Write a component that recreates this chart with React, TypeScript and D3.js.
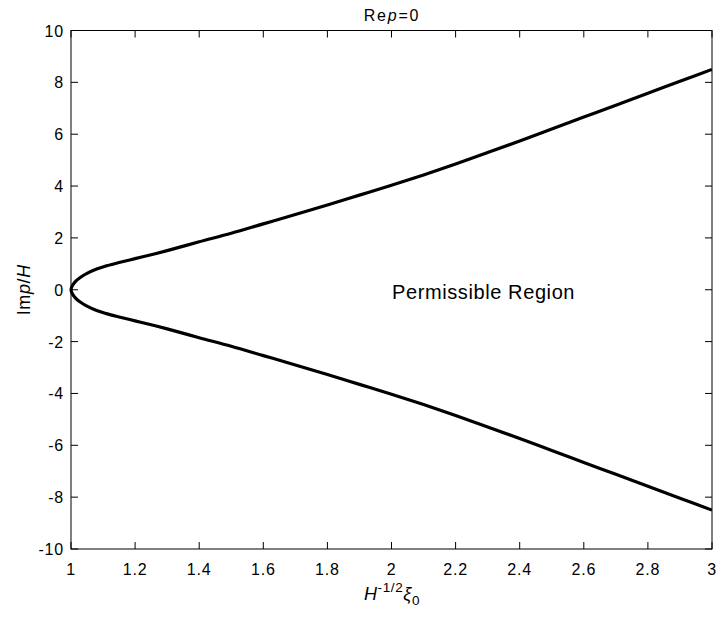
import React, { useEffect, useRef } from 'react';
import * as d3 from 'd3';

// upper branch; lower branch is its mirror image
const xVals = [1, 1.005, 1.015, 1.03, 1.05, 1.08, 1.11, 1.15, 1.2, 1.25, 1.3, 1.4, 1.5, 1.6, 1.7, 1.8, 1.9, 2.0, 2.1, 2.2, 2.3, 2.4, 2.5, 2.6, 2.7, 2.8, 2.9, 3.0];
const upperVals = [0, 0.17, 0.33, 0.48, 0.63, 0.8, 0.92, 1.05, 1.2, 1.35, 1.51, 1.85, 2.18, 2.54, 2.9, 3.27, 3.65, 4.03, 4.43, 4.85, 5.29, 5.74, 6.2, 6.66, 7.12, 7.58, 8.04, 8.5];
const xTicks = [1, 1.2, 1.4, 1.6, 1.8, 2, 2.2, 2.4, 2.6, 2.8, 3];
const yTicks = [-10, -8, -6, -4, -2, 0, 2, 4, 6, 8, 10];

const App = () => {
  const svgRef = useRef<SVGSVGElement>(null);

  useEffect(() => {
    const width = 717;
    const height = 621;
    const m = { left: 71, right: 5, top: 30.5, bottom: 72 };

    const x = d3.scaleLinear().domain([1, 3]).range([m.left, width - m.right]);
    const y = d3.scaleLinear().domain([-10, 10]).range([height - m.bottom, m.top]);

    const svg = d3.select(svgRef.current)
      .attr('width', width)
      .attr('height', height)
      .style('font-family', 'Arial, "Liberation Sans", sans-serif');
    svg.selectAll('*').remove();

    const pts: [number, number][] = [];
    for (let i = xVals.length - 1; i > 0; i--) pts.push([xVals[i], -upperVals[i]]);
    for (let i = 0; i < xVals.length; i++) pts.push([xVals[i], upperVals[i]]);

    const line = d3.line<[number, number]>()
      .x(d => x(d[0]))
      .y(d => y(d[1]))
      .curve(d3.curveCatmullRom.alpha(0.5));

    svg.append('defs').append('clipPath').attr('id', 'clip')
      .append('rect')
      .attr('x', x(1) - 2).attr('y', y(10))
      .attr('width', x(3) - x(1) + 2).attr('height', y(-10) - y(10));

    svg.append('path')
      .datum(pts)
      .attr('d', line)
      .attr('fill', 'none')
      .attr('stroke', '#000')
      .attr('stroke-width', 3.2)
      .attr('stroke-linejoin', 'round')
      .attr('clip-path', 'url(#clip)');

    // box
    svg.append('rect')
      .attr('x', x(1)).attr('y', y(10))
      .attr('width', x(3) - x(1)).attr('height', y(-10) - y(10))
      .attr('fill', 'none').attr('stroke', '#000').attr('stroke-width', 1);

    const tl = 7;
    const ticks = svg.append('g').attr('stroke', '#000').attr('stroke-width', 1);
    xTicks.forEach(t => {
      ticks.append('line').attr('x1', x(t)).attr('x2', x(t)).attr('y1', y(-10)).attr('y2', y(-10) - tl);
      ticks.append('line').attr('x1', x(t)).attr('x2', x(t)).attr('y1', y(10)).attr('y2', y(10) + tl);
    });
    yTicks.forEach(t => {
      ticks.append('line').attr('x1', x(1)).attr('x2', x(1) + tl).attr('y1', y(t)).attr('y2', y(t));
      ticks.append('line').attr('x1', x(3)).attr('x2', x(3) - tl).attr('y1', y(t)).attr('y2', y(t));
    });

    svg.append('g')
      .attr('font-size', 16)
      .attr('letter-spacing', 0.8)
      .attr('text-anchor', 'middle')
      .selectAll('text')
      .data(xTicks)
      .join('text')
      .attr('x', d => x(d))
      .attr('y', 575)
      .text(d => String(d));

    svg.append('g')
      .attr('font-size', 16)
      .attr('letter-spacing', 0.8)
      .attr('text-anchor', 'end')
      .selectAll('text')
      .data(yTicks)
      .join('text')
      .attr('x', 64)
      .attr('y', d => y(d) + 6)
      .text(d => String(d));

    // title
    const title = svg.append('text')
      .attr('x', 392).attr('y', 21)
      .attr('text-anchor', 'middle')
      .attr('letter-spacing', 1.8)
      .attr('font-size', 16);
    title.append('tspan').text('Re');
    title.append('tspan').attr('font-style', 'italic').text('p');
    title.append('tspan').text('=0');

    // x label
    const xl = svg.append('text')
      .attr('x', 392).attr('y', 600)
      .attr('text-anchor', 'middle')
      .attr('letter-spacing', 0.6)
      .attr('font-size', 18);
    xl.append('tspan').attr('font-style', 'italic').text('H');
    xl.append('tspan').attr('dy', -8).attr('font-size', 13.5).text('-1/2');
    xl.append('tspan').attr('dy', 8).attr('font-style', 'italic').text('ξ');
    xl.append('tspan').attr('dy', 5).attr('font-size', 13.5).text('0');

    // y label
    const yl = svg.append('text')
      .attr('transform', `translate(30,${y(0)}) rotate(-90)`)
      .attr('text-anchor', 'middle')
      .attr('letter-spacing', 0.6)
      .attr('font-size', 18);
    yl.append('tspan').text('Im');
    yl.append('tspan').attr('font-style', 'italic').text('p');
    yl.append('tspan').text('/');
    yl.append('tspan').attr('font-style', 'italic').text('H');

    svg.append('text')
      .attr('x', 392).attr('y', 299)
      .attr('font-size', 20)
      .attr('letter-spacing', 0.6)
      .text('Permissible Region');
  }, []);

  return <svg ref={svgRef} style={{ position: 'absolute', left: 0, top: 0 }} />;
};

export default App;
